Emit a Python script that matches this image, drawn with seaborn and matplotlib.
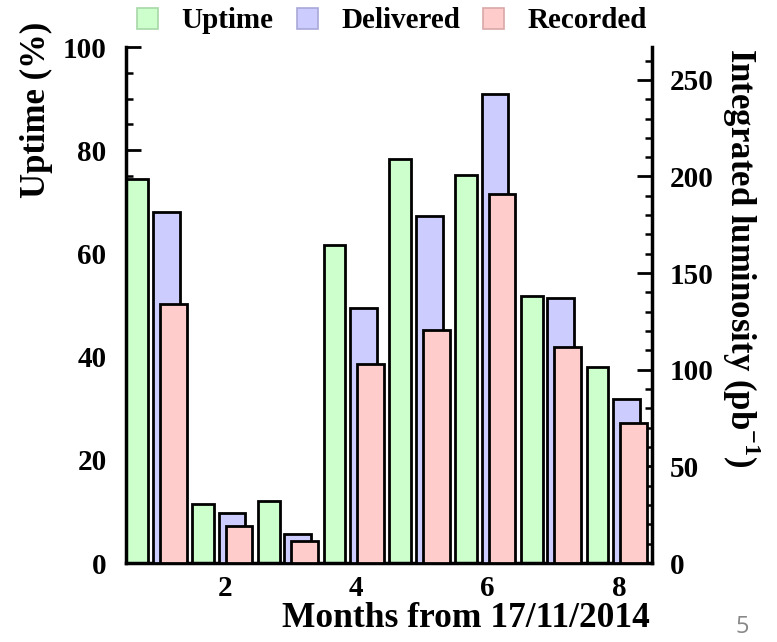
import numpy as np
import pandas as pd
import matplotlib
matplotlib.use("Agg")
import matplotlib.pyplot as plt
from matplotlib.patches import Patch
from matplotlib.ticker import MultipleLocator
import seaborn as sns

# Monthly run summary
months = [1, 2, 3, 4, 5, 6, 7, 8]
uptime = [74.4, 11.4, 12.0, 61.6, 78.3, 75.2, 51.7, 37.9]          # %
delivered = [181.6, 26.0, 15.0, 132.0, 179.8, 242.5, 137.2, 84.7]  # pb^-1
recorded = [134.2, 19.3, 11.5, 103.1, 120.8, 191.0, 111.9, 72.6]   # pb^-1

series_labels = ["Uptime", "Delivered", "Recorded"]
left_ticks = [0, 20, 40, 60, 80, 100]
right_ticks = [0, 50, 100, 150, 200, 250]
bottom_ticks = [2, 4, 6, 8]

sns.set_theme(style="ticks")
plt.rcParams["font.family"] = ["Liberation Serif", "DejaVu Serif"]
plt.rcParams["font.weight"] = "bold"
plt.rcParams["axes.labelweight"] = "bold"
plt.rcParams["mathtext.fontset"] = "custom"
plt.rcParams["mathtext.rm"] = "Liberation Serif:bold"
plt.rcParams["mathtext.bf"] = "Liberation Serif:bold"
for key in ("text.color", "axes.labelcolor", "xtick.color", "ytick.color",
            "xtick.labelcolor", "ytick.labelcolor", "axes.edgecolor"):
    plt.rcParams[key] = "black"

green, blue, red = "#ccffcc", "#ccccff", "#ffcccc"
W, H = 777, 642

fig = plt.figure(figsize=(W / 100, H / 100), dpi=100)
ax = fig.add_axes([126 / W, 79 / H, (652 - 126) / W, (563 - 47) / H])
ax2 = ax.twinx()

m = np.array(months, dtype=float)
df = pd.DataFrame({"month": m, "uptime": uptime,
                   "delivered": delivered, "recorded": recorded})

bar_kw = dict(native_scale=True, errorbar=None, saturation=1,
              edgecolor="black", linewidth=2)
sns.barplot(x=df["month"] - 0.33, y=df["uptime"], width=0.33,
            color=green, ax=ax, **bar_kw)
sns.barplot(x=df["month"] + 0.113, y=df["delivered"], width=0.405,
            color=blue, ax=ax2, **bar_kw)
sns.barplot(x=df["month"] + 0.218, y=df["recorded"], width=0.405,
            color=red, ax=ax2, **bar_kw)

ax.set_xlim(0.5, 8.5)
ax.set_ylim(0, 100)
ax2.set_ylim(0, 267)

ax.set_xticks(bottom_ticks)
ax.xaxis.set_minor_locator(MultipleLocator(1))
ax.set_yticks(left_ticks)
ax.yaxis.set_minor_locator(MultipleLocator(5))
ax2.set_yticks(right_ticks)
ax2.yaxis.set_minor_locator(MultipleLocator(10))

for a in (ax, ax2):
    a.tick_params(which="major", direction="in", length=11, width=2,
                  labelsize=21, color="black", labelcolor="black")
    a.tick_params(which="minor", direction="in", length=5, width=1.8,
                  color="black")
    for lab in a.get_xticklabels() + a.get_yticklabels():
        lab.set_fontweight("bold")
    a.set_xlabel("")
    a.set_ylabel("")

ax.tick_params(axis="y", which="both", left=True, right=False, pad=14)
ax.tick_params(axis="x", pad=9)
ax2.tick_params(axis="y", which="both", left=False, right=True,
                labelright=True, labelleft=False, pad=13)
ax2.tick_params(axis="x", which="both", bottom=False, labelbottom=False)

ax.spines["top"].set_visible(False)
ax.spines["right"].set_visible(False)
ax2.spines["top"].set_visible(False)
ax2.spines["left"].set_visible(False)
ax2.spines["bottom"].set_visible(False)
for s in ("left", "bottom"):
    ax.spines[s].set_linewidth(2.5)
    ax.spines[s].set_color("black")
ax2.spines["right"].set_linewidth(2.5)
ax2.spines["right"].set_color("black")

# Axis titles
fig.text(650 / W, 1 - 627 / H, "Months from 17/11/2014", fontsize=25.5,
         fontweight="bold", ha="right", va="baseline")
fig.text(36 / W, 1 - 22 / H, "Uptime (%)", fontsize=25, fontweight="bold",
         rotation=90, ha="center", va="top")
fig.text(741 / W, 1 - 48 / H, r"Integrated luminosity (pb$^{\mathbf{-1}}$)",
         fontsize=25, fontweight="bold", rotation=-90, ha="center", va="top")

handles = [Patch(facecolor=green, edgecolor="#a8d8a8", linewidth=1.2),
           Patch(facecolor=blue, edgecolor="#a8a8d8", linewidth=1.2),
           Patch(facecolor=red, edgecolor="#d8a8a8", linewidth=1.2)]
fig.legend(handles, series_labels, loc="center", ncol=3,
           bbox_to_anchor=(392 / W, 1 - 21 / H), frameon=False,
           prop={"family": "Liberation Serif", "weight": "bold", "size": 21},
           handlelength=0.72, handleheight=0.72, handletextpad=0.8,
           columnspacing=0.8)

fig.text(742 / W, 1 - 627 / H, "5", fontsize=17, color="#888888",
         family="Open Sans", fontweight="normal", ha="center", va="center")

fig.savefig("out.png", dpi=100)
